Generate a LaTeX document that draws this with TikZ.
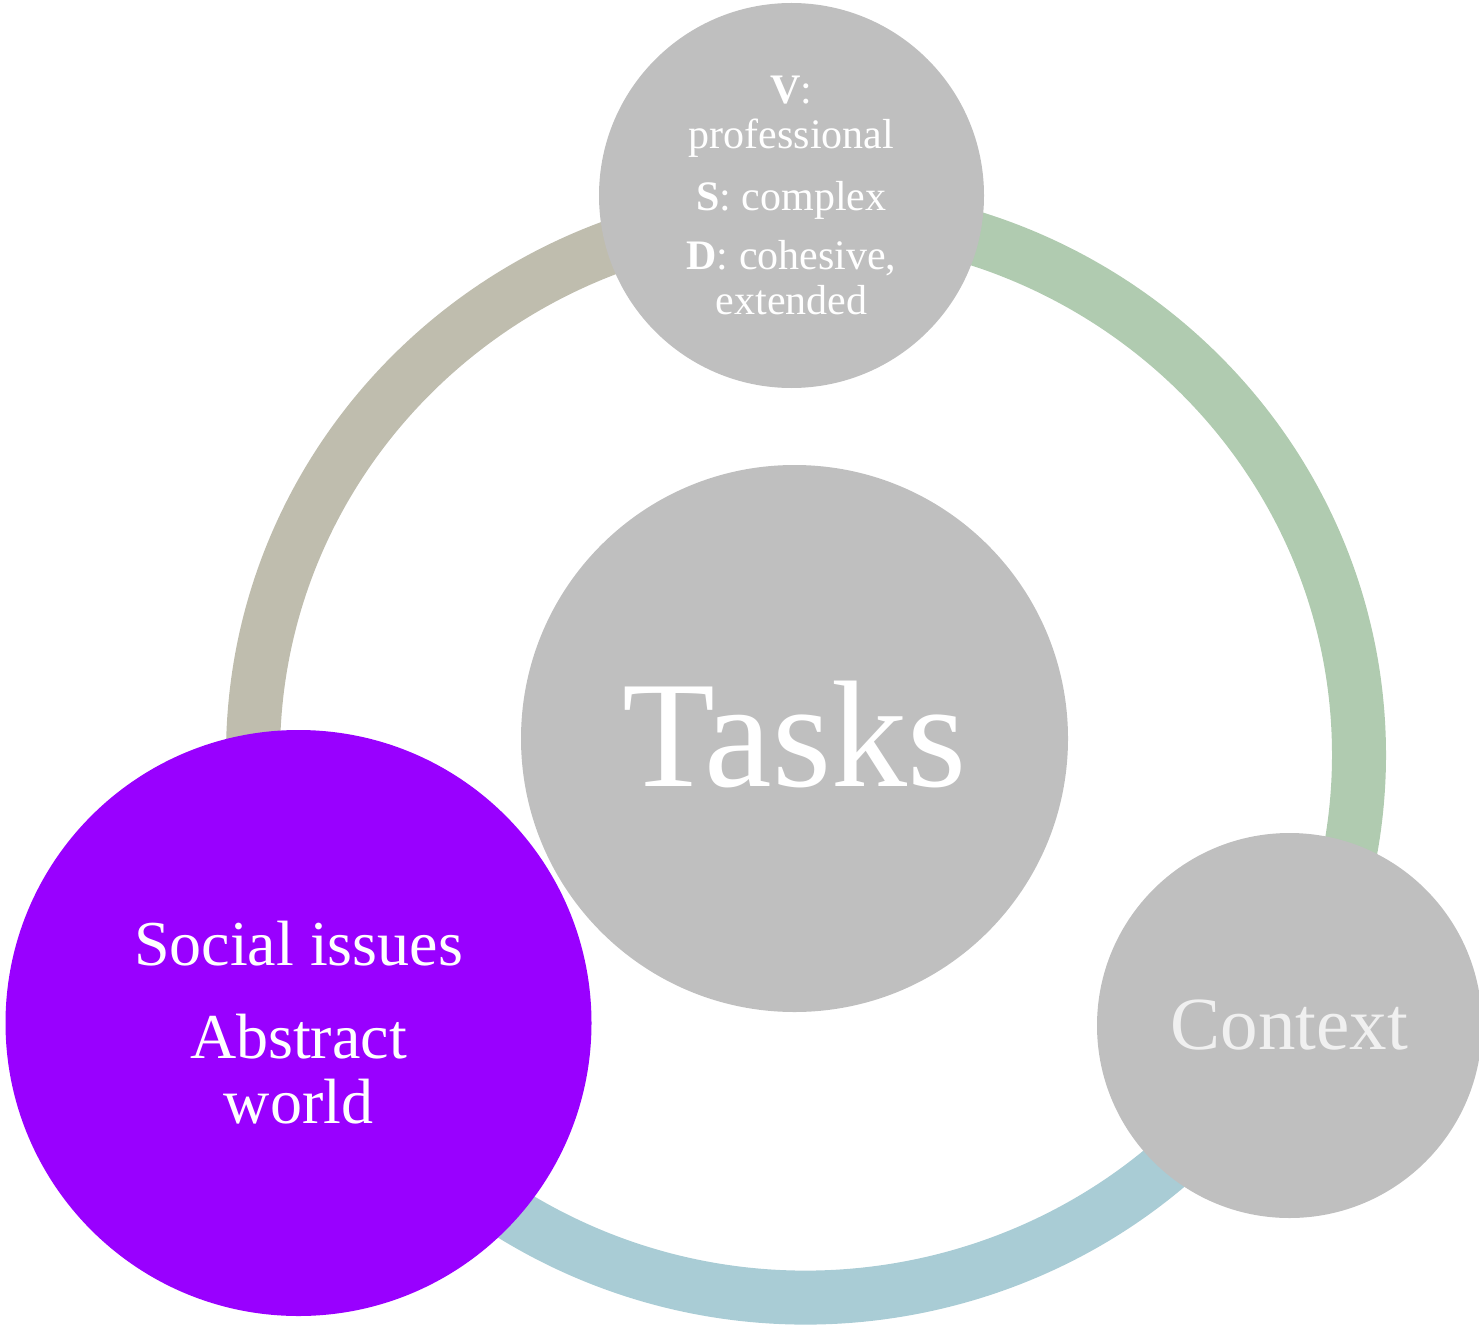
\documentclass[tikz,border=0pt]{standalone}
\usepackage{fontspec}
\setmainfont{Liberation Serif}
\definecolor{ringtan}{RGB}{191,189,174}
\definecolor{ringgreen}{RGB}{176,203,176}
\definecolor{ringblue}{RGB}{169,204,213}
\definecolor{nodegray}{RGB}{191,191,191}
\definecolor{nodepurple}{RGB}{153,0,255}
\definecolor{ctxtext}{RGB}{240,240,240}
\tikzset{
  ringarc/.style={line width=54pt},
  bubble/.style={circle,fill=nodegray,draw=none,inner sep=0pt,align=center,text=white},
}
\begin{document}
\begin{tikzpicture}[x=1pt,y=-1pt]
\useasboundingbox (0,0) rectangle (1479,1324);
\coordinate (ringc) at (806,755);
% ring segments
\draw[ringarc,ringtan] (ringc) ++(-90:553 and 542.5) arc[start angle=-90,end angle=-210,x radius=553,y radius=542.5];
\draw[ringarc,ringgreen] (ringc) ++(-90:553 and 542.5) arc[start angle=-90,end angle=30,x radius=553,y radius=542.5];
\draw[ringarc,ringblue] (ringc) ++(30:553 and 542.5) arc[start angle=30,end angle=150,x radius=553,y radius=542.5];
% nodes
\node[bubble,minimum size=547pt,text height=110pt,text depth=14pt,font={\fontsize{152}{160}\selectfont}] (tasks) at (794.5,738.5) {Tasks};
\node[bubble,minimum size=385pt,font={\fontsize{42}{45}\selectfont}] (vsd) at (791.5,195.5)
  {\textbf{V}:\\ professional\\[17pt] \textbf{S}: complex\\[14pt] \textbf{D}: cohesive,\\ extended};
\node[bubble,minimum size=385pt,text=ctxtext,font={\fontsize{75}{80}\selectfont}] (context) at (1289.5,1025.5) {Context};
\node[bubble,fill=nodepurple,minimum size=586pt,font={\fontsize{64}{65.5}\selectfont}] (social) at (298.5,1023)
  {Social issues\\[27pt] Abstract\\ world};
\end{tikzpicture}
\end{document}
